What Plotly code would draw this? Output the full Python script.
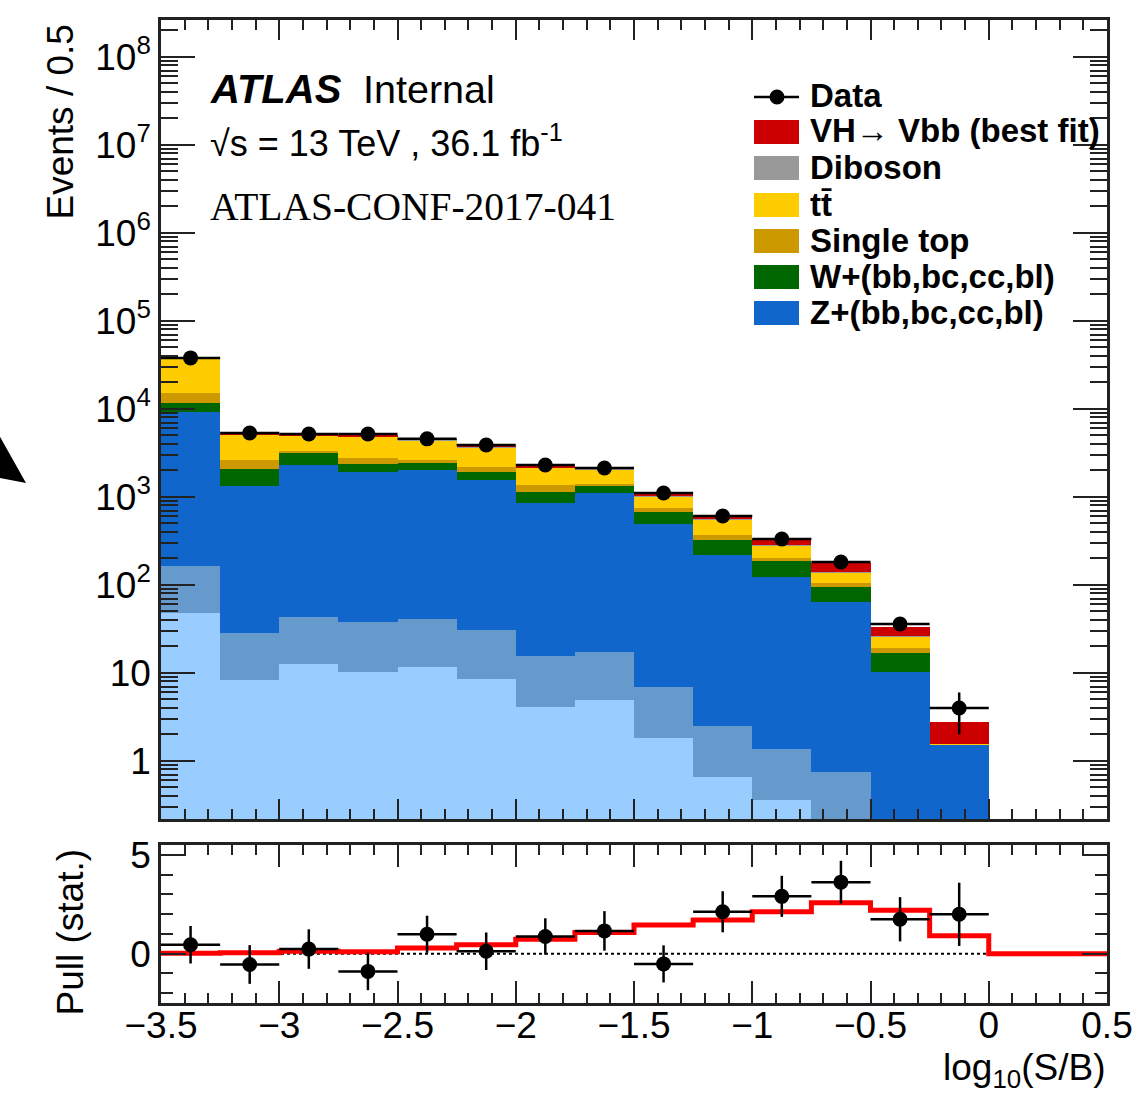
import plotly.graph_objects as go

# ---------------- data ----------------
# log10(S/B) bins, width 0.25, from -3.5 to 0
bin_centers = [-3.375, -3.125, -2.875, -2.625, -2.375, -2.125, -1.875,
               -1.625, -1.375, -1.125, -0.875, -0.625, -0.375, -0.125]
bin_width = 0.25

# background / signal yields per bin (events / 0.5)
z_light = [48, 8.3, 12.6, 10.2, 11.6, 8.5, 4.1, 4.9, 1.8, 0.66, 0.36, 0.15, 0.05, 0.01]
z_cl = [116, 20, 31, 28, 29, 22, 11.6, 12.4, 5.1, 1.84, 1.0, 0.6, 0.15, 0.02]
z_hf = [9090, 1305, 2266, 1880, 1990, 1530, 840, 1093, 486, 216, 121.6, 63, 10.1, 1.49]
w_hf = [2450, 747, 930, 450, 400, 360, 285, 223, 182, 106, 64, 31, 6.6, 0.0]
single_top = [3500, 550, 60, 390, 200, 270, 230, 73, 75, 47, 16, 10, 2.3, 0.0]
ttbar = [22500, 2450, 1640, 2120, 1780, 1480, 790, 650, 265, 185, 78, 34, 6.8, 0.02]
diboson = [300, 50, 45, 45, 40, 35, 25, 22, 12, 8, 5, 1, 0.3, 0.0]
vh_signal = [20, 12, 12, 12, 13, 14, 15, 16, 30, 35, 45, 36, 7.2, 1.2]

data = [38000, 5330, 5200, 5200, 4570, 3900, 2310, 2130, 1110, 608, 333, 182, 36, 4]
data_err = [195, 73, 72, 72, 68, 62, 48, 46, 33, 25, 18, 13.5, 6, 2]

# pull panel
pull = [0.45, -0.55, 0.23, -0.9, 0.98, 0.12, 0.87, 1.15, -0.52, 2.12, 2.9, 3.62, 1.74, 1.99]
pull_err = [0.95, 0.98, 1.0, 0.95, 0.94, 0.95, 0.92, 1.0, 0.94, 1.04, 1.04, 1.08, 1.12, 1.6]
pull_edges = [-3.5, -3.25, -3.0, -2.75, -2.5, -2.25, -2.0, -1.75, -1.5,
              -1.25, -1.0, -0.75, -0.5, -0.25, 0.0, 0.25, 0.5]
pull_expected = [0.02, 0.05, 0.12, 0.1, 0.28, 0.45, 0.73, 1.07, 1.45,
                 1.7, 2.12, 2.57, 2.19, 0.9, 0.0, 0.0]

# ---------------- style ----------------
C_ZL = "#99ccff"
C_ZCL = "#6699cc"
C_ZHF = "#1166cc"
C_W = "#006600"
C_STOP = "#cc9900"
C_TT = "#ffcc00"
C_VV = "#999999"
C_VH = "#cc0000"

SANS = "Liberation Sans, Arial, Helvetica, sans-serif"
SERIF = "Liberation Serif, Times New Roman, serif"

W, H = 1134, 1101
L, R, T, B = 161, 1107, 20, 1003   # plot-area pixel box


def px(x):
    return (x - L) / (R - L)


def py(y):
    return (B - y) / (B - T)


fig = go.Figure()

stack = [
    ("Z+l", z_light, C_ZL),
    ("Z+cl", z_cl, C_ZCL),
    ("Z+(bb,bc,cc,bl)", z_hf, C_ZHF),
    ("W+(bb,bc,cc,bl)", w_hf, C_W),
    ("Single top", single_top, C_STOP),
    ("tt", ttbar, C_TT),
    ("Diboson", diboson, C_VV),
    ("VH", vh_signal, C_VH),
]
for name, vals, col in stack:
    fig.add_trace(go.Bar(
        x=bin_centers, y=vals, width=bin_width, name=name,
        marker=dict(color=col, line=dict(width=0)),
        xaxis="x2", yaxis="y2", showlegend=False,
    ))

fig.add_trace(go.Scatter(
    x=bin_centers, y=data, mode="markers", name="Data",
    marker=dict(color="black", size=15),
    error_y=dict(type="data", array=data_err, color="black", thickness=2.5, width=0),
    error_x=dict(type="constant", value=bin_width / 2, color="black", thickness=2.5, width=0),
    xaxis="x2", yaxis="y2", showlegend=False,
))

# pull panel
fig.add_trace(go.Scatter(
    x=[pull_edges[0], 0.0], y=[0, 0], mode="lines",
    line=dict(color="black", width=2, dash="dot"),
    xaxis="x", yaxis="y", showlegend=False,
))
fig.add_trace(go.Scatter(
    x=pull_edges, y=pull_expected + [pull_expected[-1]], mode="lines",
    line=dict(color="#ff0000", width=5, shape="hv"),
    xaxis="x", yaxis="y", showlegend=False,
))
fig.add_trace(go.Scatter(
    x=bin_centers, y=pull, mode="markers",
    marker=dict(color="black", size=15),
    error_y=dict(type="data", array=pull_err, color="black", thickness=2.5, width=0),
    error_x=dict(type="constant", value=bin_width / 2, color="black", thickness=2.5, width=0),
    xaxis="x", yaxis="y", showlegend=False,
))

tickfont = dict(family=SANS, size=37, color="black")
axis_common = dict(showline=True, linecolor="#222222", linewidth=2.5, mirror="allticks",
                   ticks="inside", tickcolor="#222222", tickwidth=2,
                   showgrid=False, zeroline=False, automargin=False)

log_minor = [m * 10 ** k for k in range(-1, 9) for m in range(2, 10)]
decades = [1, 10, 100, 1e3, 1e4, 1e5, 1e6, 1e7, 1e8]
decade_text = ["1", "10", "10<sup>2</sup>", "10<sup>3</sup>", "10<sup>4</sup>",
               "10<sup>5</sup>", "10<sup>6</sup>", "10<sup>7</sup>", "10<sup>8</sup>"]

main_bottom = py(819)
pull_top = py(845)

fig.update_layout(
    width=W, height=H,
    margin=dict(l=L, r=W - R, t=T, b=H - B),
    paper_bgcolor="white", plot_bgcolor="white",
    barmode="stack", bargap=0,
    xaxis=dict(domain=[0, 1], anchor="y", range=[-3.5, 0.5], dtick=0.5, tick0=0,
               ticklen=22, tickfont=tickfont, ticklabelstandoff=-12,
               minor=dict(dtick=0.1, tick0=0, ticks="inside", ticklen=10,
                          tickwidth=2, tickcolor="#222222", showgrid=False),
               **axis_common),
    yaxis=dict(domain=[0, pull_top], anchor="x", range=[-2.5, 5.5],
               tickvals=[0, 5], ticklen=25, tickfont=tickfont,
               minor=dict(dtick=1, tick0=0, ticks="inside", ticklen=12,
                          tickwidth=2, tickcolor="#222222", showgrid=False),
               **axis_common),
    xaxis2=dict(domain=[0, 1], anchor="y2", matches="x", range=[-3.5, 0.5],
                dtick=0.5, tick0=0, ticklen=20, showticklabels=False,
                minor=dict(dtick=0.1, tick0=0, ticks="inside", ticklen=10,
                           tickwidth=2, tickcolor="#222222", showgrid=False),
                **axis_common),
    yaxis2=dict(domain=[main_bottom, 1], anchor="x2", type="log",
                range=[-0.66, 8.42], tickvals=decades, ticktext=decade_text,
                ticklen=34, tickfont=tickfont,
                minor=dict(tickvals=log_minor, ticks="inside", ticklen=17,
                           tickwidth=2, tickcolor="#222222", showgrid=False),
                **axis_common),
)

ann = []
# axis titles
ann.append(dict(text="Events / 0.5", x=px(38), y=py(122), textangle=-90,
                font=dict(family=SANS, size=37, color="black")))
ann.append(dict(text="Pull (stat.)", x=px(47), y=py(932), textangle=-90,
                font=dict(family=SANS, size=37, color="black")))
ann.append(dict(text="log<sub>10</sub>(S/B)", x=1.0, y=py(1070), xanchor="right",
                font=dict(family=SANS, size=37, color="black")))
# labels
ann.append(dict(text="<b><i>ATLAS</i></b>", x=px(208), y=py(89), xanchor="left",
                font=dict(family=SANS, size=40, color="black")))
ann.append(dict(text="Internal", x=px(361), y=py(89), xanchor="left",
                font=dict(family=SANS, size=39.5, color="black")))
ann.append(dict(text="\u221As = 13 TeV , 36.1 fb<sup>-1</sup>", x=px(208), y=py(141),
                xanchor="left", font=dict(family=SANS, size=36, color="black")))
ann.append(dict(text="ATLAS-CONF-2017-041", x=px(208), y=py(207), xanchor="left",
                font=dict(family=SERIF, size=39.5, color="black")))

# legend
legend_rows = [
    ("VH\u2192 Vbb (best fit)", C_VH, 132),
    ("Diboson", C_VV, 168),
    ("tt\u0304", C_TT, 205),
    ("Single top", C_STOP, 241),
    ("W+(bb,bc,cc,bl)", C_W, 277),
    ("Z+(bb,bc,cc,bl)", C_ZHF, 313),
]
shapes = []
legfont = dict(family=SANS, size=33, color="black", weight="bold")
ann.append(dict(text="Data", x=px(808), y=py(95), xanchor="left", font=legfont))
shapes.append(dict(type="line", xref="paper", yref="paper",
                   x0=px(754), x1=px(799), y0=py(97), y1=py(97),
                   line=dict(color="black", width=2.5)))
shapes.append(dict(type="circle", xref="paper", yref="paper",
                   x0=px(769.5), x1=px(784.5), y0=py(104.5), y1=py(89.5),
                   fillcolor="black", line=dict(color="black", width=0)))
for label, col, yc in legend_rows:
    ann.append(dict(text=label, x=px(808), y=py(yc - 1), xanchor="left", font=legfont))
    shapes.append(dict(type="rect", xref="paper", yref="paper",
                       x0=px(754), x1=px(799), y0=py(yc + 12), y1=py(yc - 12),
                       fillcolor=col, line=dict(width=0)))

# arrow head at the left page edge
shapes.append(dict(type="path", xref="paper", yref="paper",
                   path=(f"M {px(-5)},{py(428)} L {px(26)},{py(483)} "
                         f"L {px(-5)},{py(477)} Z"),
                   fillcolor="black", line=dict(width=0)))

for a in ann:
    a.setdefault("xref", "paper")
    a.setdefault("yref", "paper")
    a.setdefault("showarrow", False)
    a.setdefault("yanchor", "middle")

fig.update_layout(annotations=ann, shapes=shapes)

fig.write_html("out.html")
